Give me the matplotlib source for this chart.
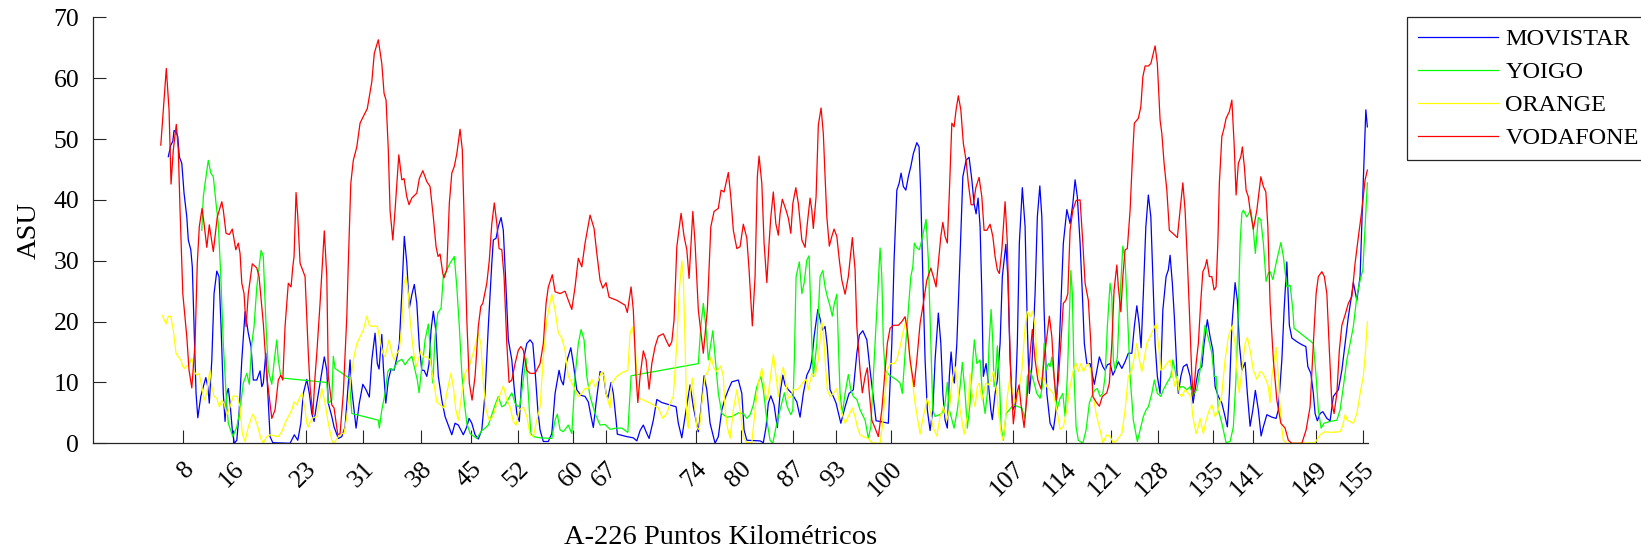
import numpy as np
import matplotlib
matplotlib.use("Agg")
import matplotlib.pyplot as plt

# eje x: indice de muestra a lo largo de la A-226; eje y: ASU
pk_pos = [36, 56, 85, 108, 131, 151, 170, 192, 205, 241, 259, 280, 297, 319,
          368, 389, 407, 426, 448, 464, 489, 508]
pk_labels = ['8', '16', '23', '31', '38', '45', '52', '60', '67', '74', '80',
             '87', '93', '100', '107', '114', '121', '128', '135', '141',
             '149', '155']

movistar = [
    (30.1, 47.1), (31.1, 49.0), (31.9, 49.6), (32.4, 51.4), (33.2, 51.2), (33.9, 50.4),
    (34.5, 47.1), (35.5, 46.0), (36.4, 41.1), (37.5, 37.2), (38.1, 33.4), (39.1, 31.8),
    (39.7, 29.0), (40.4, 19.2), (41.2, 8.2), (41.9, 4.2), (43.1, 7.7), (44.1, 9.3),
    (45.1, 10.8), (45.9, 9.3), (46.5, 6.6), (47.5, 13.7), (48.4, 24.6), (49.5, 28.3),
    (50.4, 27.4), (51.2, 19.2), (52.1, 8.2), (52.8, 3.6), (53.5, 8.2), (54.1, 9.0),
    (54.8, 6.6), (55.7, 2.2), (56.5, 0.0), (57.5, 0.5), (58.4, 4.9), (59.5, 13.7),
    (60.8, 21.6), (62.1, 18.1), (63.2, 15.9), (64.1, 10.4), (65.5, 10.4), (66.8, 11.9),
    (67.5, 9.3), (68.1, 9.9), (69.1, 14.8), (69.9, 8.2), (70.8, 1.1), (71.9, 0.1),
    (78.8, 0.0), (80.5, 1.4), (81.9, 0.5), (83.1, 3.3), (84.1, 8.2), (85.5, 10.5),
    (86.5, 8.2), (87.5, 4.9), (88.4, 3.6), (89.5, 6.6), (90.8, 9.9), (92.5, 14.2),
    (93.5, 12.0), (94.1, 6.6), (95.5, 4.4), (96.4, 2.7), (98.1, 0.8), (99.5, 1.1),
    (100.8, 2.7), (101.7, 7.7), (102.8, 13.7), (103.5, 8.8), (105.2, 2.5), (106.5, 6.6),
    (107.9, 9.7), (109.2, 8.8), (110.5, 7.6), (111.5, 13.7), (112.8, 18.1), (113.7, 13.1),
    (114.4, 12.2), (115.5, 17.9), (116.1, 12.6), (117.1, 6.6), (118.1, 10.4), (119.2, 12.2),
    (120.4, 12.0), (121.5, 14.0), (122.5, 16.4), (123.5, 24.6), (124.5, 34.0), (125.5, 29.6),
    (126.5, 22.2), (127.5, 24.4), (128.5, 26.1), (129.5, 23.0), (130.5, 15.9), (131.5, 12.0),
    (132.4, 12.0), (133.5, 11.0), (134.4, 13.1), (135.2, 18.6), (136.1, 21.7), (137.1, 18.6),
    (138.1, 11.0), (139.5, 7.1), (140.8, 4.4), (143.5, 1.4), (144.8, 3.3), (146.1, 3.0),
    (148.1, 1.4), (149.5, 2.7), (150.4, 4.1), (151.5, 3.3), (152.8, 1.4), (154.1, 0.7),
    (155.5, 2.2), (156.8, 8.2), (158.1, 19.2), (159.5, 29.6), (160.1, 33.4), (161.2, 33.7),
    (162.1, 35.6), (163.2, 37.1), (164.1, 35.0), (165.1, 26.3), (166.1, 17.0), (167.5, 13.7),
    (168.4, 9.3), (169.5, 4.9), (170.5, 3.6), (171.5, 11.0), (172.4, 14.2), (173.5, 16.4),
    (174.8, 17.0), (175.9, 16.4), (176.8, 12.0), (177.9, 5.5), (178.8, 2.2), (180.1, 0.3),
    (182.1, 0.3), (183.5, 1.6), (184.8, 8.2), (186.4, 12.0), (187.2, 10.4), (188.1, 9.6),
    (189.2, 13.1), (191.1, 15.7), (192.1, 13.1), (193.5, 8.8), (195.1, 7.9), (196.8, 7.7),
    (198.1, 6.8), (199.2, 4.4), (200.1, 2.6), (201.2, 6.6), (202.8, 11.8), (204.1, 11.5),
    (205.2, 8.2), (205.9, 7.4), (207.2, 10.0), (208.1, 8.2), (209.2, 3.8), (209.7, 1.5),
    (213.5, 1.1), (216.1, 0.9), (217.5, 0.4), (218.8, 2.1), (220.1, 3.0), (221.5, 1.6),
    (222.4, 0.8), (224.1, 3.8), (225.5, 7.2), (227.5, 6.7), (230.8, 6.3), (233.2, 6.0),
    (234.1, 3.3), (235.5, 0.9), (236.8, 4.4), (238.8, 9.6), (240.1, 6.0), (242.1, 1.9),
    (243.1, 5.5), (244.4, 11.1), (245.5, 8.8), (246.8, 3.3), (248.8, 0.0), (250.1, 1.1),
    (251.5, 5.5), (252.8, 7.4), (254.1, 8.8), (255.5, 10.1), (258.1, 10.4), (259.5, 8.2),
    (260.4, 2.2), (261.5, 0.5), (266.8, 0.4), (268.1, 0.1), (269.2, 2.7), (270.1, 6.6),
    (271.1, 7.8), (272.4, 6.3), (273.7, 2.6), (274.8, 8.2), (275.9, 11.2), (276.8, 9.6),
    (278.1, 8.8), (279.5, 8.2), (281.5, 6.8), (282.8, 4.3), (284.1, 8.2), (285.5, 11.2),
    (286.8, 12.3), (287.5, 13.7), (288.4, 17.5), (289.9, 22.0), (290.8, 20.5), (291.9, 18.6),
    (292.8, 19.2), (293.7, 15.9), (294.8, 8.8), (296.1, 7.7), (297.2, 6.6), (299.1, 3.3),
    (300.8, 6.0), (302.4, 8.2), (304.1, 8.8), (305.5, 14.8), (306.5, 17.8), (307.9, 18.5),
    (309.5, 17.0), (310.8, 12.0), (311.9, 8.2), (313.2, 3.7), (314.8, 3.6), (318.1, 3.3),
    (319.5, 16.4), (320.4, 30.1), (321.5, 41.6), (322.4, 42.7), (323.2, 44.4), (324.1, 42.2),
    (325.1, 41.6), (326.1, 43.8), (327.1, 45.5), (328.1, 47.6), (329.5, 49.4), (330.4, 48.7),
    (331.1, 40.5), (331.9, 27.4), (332.8, 13.7), (333.7, 5.5), (334.8, 2.1), (335.9, 5.5),
    (336.8, 13.7), (338.1, 21.4), (339.1, 16.4), (339.9, 8.2), (340.8, 3.8), (341.7, 2.5),
    (342.5, 11.0), (343.2, 15.0), (343.9, 11.5), (344.5, 9.9), (345.5, 16.4), (346.5, 27.4),
    (347.9, 43.8), (349.2, 46.5), (350.4, 47.0), (351.5, 43.3), (352.4, 39.4), (353.2, 37.7),
    (354.0, 40.3), (354.8, 35.6), (355.5, 24.6), (356.1, 11.0), (357.2, 13.1), (358.1, 9.9),
    (359.1, 5.5), (359.7, 3.9), (360.8, 8.2), (361.7, 10.4), (362.8, 16.4), (363.7, 27.4),
    (365.1, 32.7), (365.9, 27.4), (366.8, 13.7), (367.9, 5.5), (368.8, 6.3), (369.7, 16.4),
    (370.5, 32.9), (371.7, 42.0), (372.8, 35.6), (373.7, 19.2), (374.5, 8.2), (375.5, 12.6),
    (376.8, 24.6), (377.7, 37.2), (378.7, 42.3), (379.5, 37.2), (380.4, 21.9), (381.5, 8.2),
    (382.8, 3.3), (384.1, 2.2), (385.2, 5.5), (386.5, 16.4), (388.1, 32.9), (389.5, 38.4),
    (390.8, 36.1), (391.9, 39.4), (392.8, 43.3), (393.7, 40.5), (394.8, 32.9), (395.7, 24.6),
    (396.5, 16.4), (397.5, 13.1), (398.8, 13.1), (400.5, 9.7), (401.5, 12.0), (402.5, 14.2),
    (403.9, 12.6), (404.8, 12.0), (405.7, 12.9), (406.8, 13.1), (407.9, 11.2), (408.8, 12.0),
    (410.1, 13.4), (411.5, 12.3), (412.8, 13.4), (414.1, 14.8), (415.5, 14.8), (416.5, 19.2),
    (417.5, 22.6), (418.4, 19.7), (419.2, 15.7), (420.1, 24.6), (421.1, 35.6), (422.1, 40.8),
    (423.1, 37.2), (423.9, 27.4), (424.8, 16.4), (425.7, 11.0), (426.8, 8.2), (427.9, 21.9),
    (429.2, 27.4), (430.1, 28.5), (430.8, 30.9), (431.7, 26.3), (432.5, 20.8), (433.5, 12.0),
    (434.1, 8.2), (435.1, 11.0), (436.1, 12.6), (437.5, 13.0), (438.8, 11.0), (440.0, 6.6),
    (441.2, 9.9), (442.1, 12.0), (443.5, 12.6), (444.4, 16.4), (445.7, 20.3), (446.8, 17.5),
    (447.9, 15.3), (448.8, 9.3), (450.1, 7.7), (451.5, 6.6), (452.5, 4.9), (453.7, 2.7),
    (454.5, 8.2), (455.5, 19.2), (456.8, 26.4), (457.7, 23.5), (458.5, 16.4), (459.5, 12.0),
    (460.8, 13.3), (461.7, 8.2), (462.8, 2.8), (463.9, 5.5), (464.9, 8.7), (466.1, 5.5),
    (467.2, 1.2), (468.1, 2.7), (469.5, 4.7), (471.5, 4.3), (473.2, 4.1), (474.1, 5.5),
    (475.5, 13.7), (476.4, 21.9), (477.5, 29.8), (478.5, 19.4), (479.5, 17.3), (481.5, 16.7),
    (483.5, 16.2), (485.1, 15.9), (485.9, 12.6), (487.1, 11.5), (488.1, 8.2), (488.8, 4.9),
    (489.7, 3.7), (490.8, 4.9), (491.9, 5.2), (493.5, 4.1), (494.8, 3.7), (496.1, 7.7),
    (498.1, 8.8), (499.5, 12.0), (500.8, 16.4), (502.1, 20.8), (503.5, 24.6), (504.1, 26.4),
    (505.5, 23.5), (506.8, 27.4), (507.9, 41.1), (509.1, 54.8), (509.7, 52.0),
]

yoigo = [
    (43.5, 35.0), (44.1, 40.5), (44.8, 42.7), (46.1, 46.5), (47.1, 44.4), (48.1, 43.8),
    (49.2, 39.4), (50.1, 36.1), (51.1, 27.4), (52.1, 16.4), (53.2, 8.2), (54.1, 3.3),
    (55.9, 1.1), (57.5, 2.7), (58.8, 5.5), (60.1, 9.9), (61.5, 11.5), (62.5, 9.7),
    (63.5, 16.4), (64.4, 19.2), (65.5, 25.7), (67.2, 31.7), (68.1, 30.7), (69.2, 19.2),
    (70.1, 12.0), (71.5, 9.7), (72.5, 13.7), (73.5, 17.0), (74.1, 13.7), (75.1, 11.0),
    (76.1, 10.7), (93.5, 10.0), (94.1, 6.6), (95.5, 7.1), (96.1, 14.3), (96.8, 12.3),
    (102.5, 10.7), (103.5, 4.9), (114.1, 3.8), (114.5, 2.5), (115.5, 5.5), (116.8, 8.2),
    (117.9, 11.8), (118.8, 12.3), (120.1, 12.0), (121.7, 13.4), (123.5, 13.8), (124.8, 12.9),
    (126.1, 13.7), (127.5, 14.3), (128.8, 12.0), (129.7, 10.4), (130.4, 8.3), (131.5, 12.6),
    (132.1, 14.2), (132.8, 17.0), (134.1, 19.6), (135.1, 14.2), (135.9, 9.9), (136.8, 17.5),
    (137.9, 21.4), (139.2, 22.2), (140.1, 27.4), (141.5, 28.5), (142.8, 29.6), (144.5, 30.7),
    (145.5, 25.7), (146.5, 19.2), (147.5, 11.5), (148.4, 7.1), (149.5, 3.3), (150.8, 1.6),
    (153.5, 0.8), (155.5, 2.1), (156.8, 2.5), (158.1, 3.0), (159.5, 4.7), (160.8, 6.3),
    (162.1, 7.7), (163.5, 6.0), (164.8, 6.3), (167.5, 8.3), (168.8, 6.6), (169.9, 6.0),
    (170.8, 6.3), (172.1, 10.4), (173.2, 14.0), (174.1, 8.2), (175.1, 1.6), (176.1, 1.1),
    (178.8, 0.9), (183.5, 0.8), (184.8, 3.8), (185.7, 4.8), (186.8, 2.2), (188.1, 1.9),
    (190.1, 3.0), (191.5, 1.6), (192.8, 11.0), (194.1, 16.4), (195.2, 18.7), (196.4, 17.0),
    (197.5, 11.0), (198.8, 7.7), (200.8, 4.9), (202.8, 3.0), (204.8, 3.1), (206.8, 2.3),
    (209.2, 2.5), (211.5, 2.5), (213.9, 1.8), (214.4, 5.5), (215.2, 11.1), (242.1, 13.1),
    (243.1, 19.2), (244.1, 23.0), (245.1, 19.2), (246.1, 13.7), (247.9, 18.5), (248.8, 14.2),
    (250.1, 8.2), (251.5, 4.9), (253.5, 4.3), (255.5, 4.4), (258.1, 5.0), (260.1, 4.9),
    (261.5, 4.1), (262.8, 4.7), (264.1, 6.3), (265.5, 9.3), (267.1, 11.0), (268.1, 8.8),
    (269.5, 3.8), (270.8, 0.5), (271.9, 0.0), (273.2, 2.7), (274.8, 5.5), (276.5, 8.3),
    (277.7, 6.0), (279.1, 4.7), (279.9, 5.5), (280.5, 13.7), (281.2, 27.4), (282.5, 29.8),
    (283.5, 24.6), (284.4, 26.3), (285.5, 30.1), (286.4, 30.8), (287.5, 16.4), (288.1, 11.0),
    (289.5, 16.4), (290.8, 27.4), (291.9, 28.4), (292.8, 25.7), (293.7, 24.1), (294.8, 22.5),
    (295.7, 20.9), (296.5, 23.0), (297.5, 24.5), (298.1, 16.4), (298.8, 8.2), (299.7, 4.8),
    (300.8, 8.2), (302.1, 11.3), (303.1, 8.8), (304.1, 7.7), (305.5, 7.2), (306.8, 5.5),
    (308.8, 3.8), (310.1, 0.8), (311.1, 2.7), (312.1, 11.0), (313.5, 21.9), (314.8, 32.1),
    (315.5, 27.4), (316.1, 16.4), (316.8, 12.0), (318.5, 11.2), (321.5, 10.4), (322.8, 9.9),
    (323.7, 8.2), (324.8, 14.8), (326.1, 21.9), (327.1, 27.4), (327.9, 29.0), (328.5, 32.9),
    (329.5, 32.1), (330.5, 31.8), (331.5, 33.4), (333.2, 36.8), (334.1, 30.1), (335.1, 16.4),
    (335.9, 5.5), (336.8, 4.4), (339.5, 4.9), (340.8, 6.6), (341.7, 10.0), (342.5, 5.5),
    (344.4, 2.5), (345.7, 5.5), (346.8, 9.3), (347.7, 13.3), (348.8, 8.2), (349.7, 2.5),
    (350.8, 6.6), (351.9, 13.7), (352.5, 17.0), (353.5, 13.1), (354.8, 13.7), (355.7, 8.2),
    (356.8, 4.9), (357.7, 8.2), (358.4, 16.4), (359.2, 22.0), (359.9, 16.4), (360.4, 9.3),
    (361.1, 12.0), (361.7, 16.0), (362.5, 11.0), (363.2, 2.7), (364.1, 0.5), (365.2, 4.9),
    (366.5, 5.5), (368.1, 6.3), (370.1, 6.0), (371.5, 5.8), (372.8, 4.1), (373.7, 11.0),
    (374.8, 12.0), (376.1, 10.4), (377.5, 8.2), (378.8, 7.4), (379.7, 9.3), (380.4, 16.4),
    (381.2, 12.0), (382.1, 13.1), (382.8, 12.6), (383.5, 14.2), (384.4, 11.0), (385.5, 5.5),
    (386.8, 7.4), (387.9, 8.2), (388.8, 4.4), (389.7, 11.0), (391.1, 28.4), (391.7, 24.6),
    (392.4, 11.0), (393.2, 2.7), (394.1, 0.5), (395.9, 0.0), (397.2, 2.2), (398.5, 6.6),
    (399.9, 8.2), (400.8, 8.8), (401.7, 9.0), (402.8, 7.7), (403.9, 8.2), (404.8, 11.0),
    (405.7, 19.2), (406.8, 26.3), (407.5, 24.1), (408.1, 13.7), (408.8, 12.0), (409.7, 14.2),
    (410.5, 21.9), (411.9, 32.4), (412.8, 30.1), (413.7, 21.9), (414.8, 11.0), (416.1, 3.8),
    (417.7, 0.3), (418.8, 2.2), (420.1, 4.4), (421.2, 5.5), (422.1, 6.0), (423.5, 8.2),
    (424.5, 10.4), (425.7, 8.2), (427.1, 7.7), (428.1, 8.8), (429.5, 9.9), (431.1, 11.0),
    (431.9, 13.7), (432.8, 12.0), (434.1, 8.8), (435.1, 9.3), (436.1, 9.3), (437.5, 8.8),
    (438.8, 9.3), (439.9, 7.9), (441.5, 8.8), (442.8, 12.0), (444.8, 19.4), (446.1, 17.3),
    (447.5, 14.8), (448.4, 11.0), (449.2, 11.0), (450.1, 5.5), (451.5, 3.3), (453.2, 0.1),
    (454.8, 0.3), (456.1, 2.7), (457.2, 11.0), (458.1, 21.9), (458.8, 32.9), (459.5, 37.8),
    (460.1, 38.3), (461.5, 37.2), (463.1, 38.4), (464.1, 35.0), (464.9, 31.2), (466.1, 37.1),
    (467.1, 36.7), (468.1, 32.9), (469.2, 26.6), (470.1, 28.0), (470.8, 28.2), (471.9, 26.9),
    (473.2, 29.6), (475.1, 33.0), (476.1, 30.7), (477.5, 25.7), (478.8, 26.0), (479.9, 21.9),
    (480.4, 18.9), (488.1, 16.4), (489.2, 11.0), (490.1, 5.5), (491.2, 2.5), (492.4, 3.3),
    (494.8, 3.6), (497.5, 3.8), (498.8, 5.5), (500.1, 9.3), (501.5, 13.7), (502.8, 16.4),
    (504.1, 19.2), (505.5, 24.1), (506.8, 26.8), (507.9, 28.5), (508.8, 35.6), (509.7, 42.8),
]

orange = [
    (27.7, 21.0), (28.5, 20.3), (29.2, 19.6), (30.1, 20.9), (31.1, 20.8), (32.1, 18.6),
    (33.2, 14.8), (34.1, 14.2), (35.1, 13.7), (35.9, 12.6), (36.5, 12.3), (37.5, 12.7),
    (38.4, 13.1), (39.5, 14.0), (40.4, 11.8), (41.5, 11.2), (42.4, 11.5), (43.5, 9.3),
    (44.5, 7.1), (45.5, 8.2), (46.1, 10.4), (46.8, 12.0), (47.5, 9.3), (48.4, 7.7),
    (49.5, 7.4), (50.5, 6.0), (51.5, 7.1), (52.4, 6.6), (53.5, 4.7), (54.8, 6.0),
    (56.1, 7.8), (57.7, 7.7), (58.8, 6.0), (59.7, 1.6), (60.8, 0.3), (62.1, 2.7),
    (63.9, 4.8), (65.5, 3.3), (67.1, 0.8), (68.1, 0.1), (69.5, 1.1), (70.8, 1.4),
    (72.8, 1.2), (74.1, 1.1), (75.5, 1.9), (76.8, 3.3), (78.1, 4.4), (79.5, 5.5),
    (80.4, 6.8), (81.5, 6.3), (82.8, 7.7), (83.7, 8.2), (84.8, 5.5), (85.5, 3.3),
    (86.1, 2.7), (87.5, 4.1), (89.5, 4.4), (90.8, 7.5), (91.5, 9.0), (92.8, 6.6),
    (94.1, 3.3), (95.5, 0.5), (96.4, 0.0), (98.1, 1.1), (99.5, 1.6), (100.4, 1.6),
    (101.5, 4.4), (102.8, 9.3), (104.1, 13.7), (105.5, 16.4), (106.8, 17.5), (108.1, 18.6),
    (109.5, 20.9), (110.5, 19.4), (111.5, 19.2), (112.8, 19.3), (113.7, 19.2), (114.8, 17.0),
    (115.9, 14.8), (116.8, 14.2), (118.4, 17.0), (119.5, 14.8), (120.4, 13.7), (121.5, 14.8),
    (122.5, 15.3), (123.5, 19.2), (124.4, 26.3), (125.2, 27.4), (126.1, 24.6), (126.8, 20.3),
    (128.1, 15.3), (129.2, 12.6), (130.1, 13.7), (131.1, 15.2), (132.1, 14.2), (133.5, 14.2),
    (134.8, 13.7), (136.1, 10.4), (137.5, 6.8), (140.4, 5.8), (141.5, 8.2), (143.1, 11.5),
    (144.1, 9.3), (145.1, 5.5), (146.1, 3.8), (147.5, 8.2), (148.8, 11.5), (150.8, 13.1),
    (152.4, 15.3), (154.1, 18.2), (155.1, 16.4), (156.1, 9.9), (157.2, 5.5), (158.5, 3.8),
    (159.9, 4.4), (161.5, 6.6), (164.1, 9.4), (165.5, 7.1), (166.8, 6.0), (168.1, 3.6),
    (169.2, 3.0), (170.5, 5.5), (172.1, 6.0), (173.5, 4.4), (174.8, 1.4), (176.1, 1.1),
    (177.5, 3.8), (178.8, 6.0), (180.1, 14.2), (181.5, 20.3), (183.5, 24.5), (184.8, 21.9),
    (186.1, 18.1), (187.5, 17.3), (188.8, 15.3), (190.1, 11.0), (191.5, 9.9), (192.8, 8.8),
    (194.1, 7.7), (195.5, 8.2), (196.8, 9.0), (198.1, 9.0), (199.5, 10.5), (200.8, 9.3),
    (202.1, 10.4), (203.5, 11.8), (204.4, 11.0), (205.2, 8.2), (206.8, 5.8), (207.5, 9.9),
    (209.5, 11.0), (211.5, 11.6), (213.9, 12.0), (214.8, 18.1), (215.7, 19.1), (216.8, 16.4),
    (217.7, 9.9), (218.5, 7.4), (220.1, 7.1), (222.8, 6.6), (226.1, 5.8), (227.9, 4.1),
    (229.5, 4.9), (230.8, 6.6), (232.1, 7.7), (233.5, 16.4), (234.4, 24.6), (235.5, 30.0),
    (236.1, 27.4), (236.8, 16.4), (237.5, 3.8), (238.1, 2.5), (238.8, 8.2), (239.7, 10.7),
    (240.5, 6.6), (241.5, 2.7), (242.5, 2.2), (243.5, 6.6), (244.8, 11.0), (246.1, 12.0),
    (247.2, 14.2), (248.4, 12.3), (249.5, 11.8), (251.1, 12.7), (252.1, 11.0), (252.8, 5.5),
    (253.7, 2.7), (254.8, 0.8), (256.1, 5.5), (257.5, 8.8), (258.8, 5.5), (260.1, 1.1),
    (261.5, 0.1), (263.5, 0.1), (264.8, 5.5), (266.1, 9.9), (267.5, 12.3), (268.8, 8.2),
    (269.7, 7.1), (270.8, 10.4), (272.1, 14.6), (273.2, 11.0), (274.1, 7.7), (275.1, 11.0),
    (276.1, 12.5), (277.1, 9.9), (278.1, 7.4), (279.1, 7.7), (280.1, 8.8), (281.5, 8.8),
    (282.8, 9.3), (284.1, 10.1), (285.2, 10.5), (286.1, 8.8), (287.5, 11.5), (288.8, 11.0),
    (290.1, 13.7), (291.5, 20.0), (292.1, 18.6), (292.8, 13.7), (293.7, 8.8), (294.8, 7.7),
    (296.1, 8.2), (297.5, 9.0), (298.8, 6.0), (300.8, 3.3), (302.1, 4.4), (303.7, 5.8),
    (304.8, 4.4), (305.7, 2.7), (306.8, 1.4), (308.1, 1.1), (310.1, 0.8), (311.5, 0.1),
    (314.8, 0.0), (315.7, 2.7), (316.8, 8.2), (317.7, 12.0), (318.8, 13.1), (320.4, 13.1),
    (321.5, 13.7), (322.8, 15.9), (323.9, 18.1), (325.2, 20.3), (326.1, 16.4), (327.5, 11.0),
    (328.8, 6.6), (330.8, 1.5), (332.1, 4.4), (333.7, 7.4), (334.8, 5.5), (335.9, 2.7),
    (337.5, 1.2), (338.8, 4.4), (340.1, 6.0), (341.5, 3.8), (342.5, 5.5), (343.5, 9.9),
    (344.8, 12.6), (345.7, 9.9), (346.8, 5.5), (348.4, 1.5), (349.7, 4.4), (350.8, 11.5),
    (351.5, 8.2), (352.8, 6.0), (353.7, 9.3), (354.5, 9.9), (355.5, 7.1), (356.1, 8.2),
    (357.1, 9.9), (358.1, 9.6), (359.1, 10.4), (360.1, 11.8), (361.2, 9.3), (362.1, 5.5),
    (363.2, 1.6), (363.9, 0.5), (364.8, 3.3), (365.7, 7.7), (366.8, 11.0), (367.9, 8.2),
    (368.8, 6.6), (370.1, 8.2), (371.5, 12.0), (372.8, 19.2), (373.7, 21.7), (374.8, 20.8),
    (375.9, 21.7), (376.8, 19.2), (377.5, 13.7), (378.4, 11.0), (379.5, 10.4), (380.1, 11.0),
    (381.5, 9.3), (382.8, 8.8), (384.1, 8.2), (385.5, 5.5), (386.8, 2.3), (388.1, 2.7),
    (389.5, 5.5), (390.8, 9.3), (392.1, 12.0), (393.2, 13.1), (394.1, 11.8), (395.1, 13.1),
    (396.1, 11.8), (397.1, 12.6), (398.1, 13.1), (399.1, 12.0), (399.9, 8.2), (401.2, 4.9),
    (402.5, 2.7), (403.9, 0.1), (405.5, 1.4), (406.8, 1.1), (408.1, 0.1), (409.5, 0.5),
    (411.5, 1.6), (412.8, 5.5), (414.1, 11.0), (415.5, 12.0), (416.8, 14.8), (417.5, 16.4),
    (418.5, 13.7), (419.5, 11.8), (420.4, 13.7), (421.5, 16.4), (422.8, 17.5), (425.2, 19.7),
    (426.1, 16.4), (427.1, 12.0), (428.1, 12.3), (429.5, 13.1), (430.8, 13.7), (431.9, 11.0),
    (432.8, 9.3), (433.7, 11.0), (434.5, 8.2), (435.5, 7.7), (436.8, 8.8), (438.1, 8.2),
    (439.1, 7.7), (439.9, 4.4), (441.2, 1.6), (442.1, 2.7), (442.8, 4.1), (444.1, 1.6),
    (445.2, 3.8), (446.5, 5.5), (447.5, 6.3), (448.8, 4.4), (450.1, 5.5), (451.5, 8.2),
    (452.8, 13.7), (454.1, 17.5), (455.7, 19.3), (456.8, 16.4), (457.5, 12.0), (458.4, 8.3),
    (459.5, 12.0), (460.8, 16.4), (461.7, 17.4), (462.8, 15.3), (464.1, 12.0), (465.5, 10.5),
    (466.8, 11.8), (467.9, 11.5), (469.2, 10.4), (470.1, 9.3), (470.8, 6.7), (471.5, 11.0),
    (473.2, 15.8), (474.1, 11.0), (475.1, 3.8), (476.1, 0.5), (477.5, 0.0), (488.8, 0.1),
    (490.8, 1.4), (492.8, 1.9), (494.8, 1.8), (498.8, 1.9), (499.9, 3.0), (500.8, 4.7),
    (501.7, 3.8), (502.8, 3.6), (504.1, 3.3), (505.5, 4.9), (506.8, 8.2), (508.1, 11.0),
    (508.9, 14.8), (509.7, 20.0),
]

vodafone = [
    (27.1, 49.0), (29.3, 61.6), (30.4, 54.8), (31.2, 42.6), (32.1, 48.2), (33.3, 52.4),
    (34.1, 48.2), (34.8, 38.3), (35.9, 24.6), (37.5, 17.5), (38.4, 12.0), (39.5, 9.1),
    (40.8, 16.4), (41.7, 29.6), (42.5, 35.6), (43.6, 38.6), (44.4, 36.1), (45.5, 32.2),
    (46.5, 35.9), (48.1, 31.5), (49.7, 37.2), (51.5, 39.7), (52.1, 38.3), (53.2, 34.5),
    (54.5, 34.3), (55.7, 35.2), (57.1, 31.8), (58.1, 32.9), (58.8, 31.2), (59.5, 26.3),
    (60.4, 24.6), (61.2, 19.2), (62.1, 24.6), (63.7, 29.5), (65.5, 28.8), (66.4, 27.4),
    (68.1, 19.7), (69.5, 11.0), (71.5, 4.1), (72.8, 5.5), (74.1, 10.4), (75.1, 11.2),
    (75.9, 10.4), (76.8, 19.2), (78.1, 26.3), (79.2, 25.7), (79.9, 29.0), (80.4, 30.7),
    (81.2, 41.2), (81.9, 37.2), (82.8, 29.6), (84.8, 27.4), (86.1, 14.8), (86.8, 9.3),
    (87.9, 4.7), (88.8, 11.0), (89.5, 14.8), (90.8, 23.0), (92.5, 34.9), (93.5, 27.4),
    (94.1, 11.0), (95.5, 6.3), (96.4, 5.8), (97.9, 1.4), (98.8, 1.6), (100.1, 8.2),
    (101.5, 20.8), (102.1, 29.6), (103.1, 42.7), (104.1, 46.5), (105.5, 48.7), (106.8, 52.6),
    (108.1, 53.7), (109.7, 55.0), (111.5, 59.4), (112.5, 64.1), (114.1, 66.3), (115.5, 62.4),
    (116.4, 57.5), (117.2, 56.4), (118.1, 48.2), (118.8, 38.3), (119.9, 33.4), (120.8, 38.3),
    (122.3, 47.4), (123.5, 43.3), (124.4, 43.5), (125.5, 40.5), (126.4, 39.2), (127.5, 40.3),
    (129.5, 41.1), (130.5, 43.5), (131.9, 44.8), (133.5, 43.0), (134.8, 42.2), (136.1, 37.2),
    (137.2, 32.3), (138.0, 30.7), (138.8, 31.1), (139.9, 27.9), (140.4, 27.2), (141.5, 28.5),
    (142.5, 39.4), (143.5, 44.4), (144.5, 45.5), (145.5, 47.6), (146.8, 51.6), (147.7, 48.2),
    (148.4, 37.2), (149.5, 20.3), (150.5, 9.9), (151.6, 7.1), (152.8, 11.0), (154.1, 19.2),
    (155.1, 22.5), (155.9, 23.0), (157.5, 26.3), (158.5, 30.1), (159.5, 36.1), (160.5, 39.5),
    (161.5, 36.1), (162.4, 32.0), (163.5, 31.8), (164.4, 27.4), (165.5, 16.4), (166.4, 10.0),
    (167.5, 10.4), (168.8, 13.1), (170.1, 15.3), (171.1, 15.9), (172.1, 15.3), (173.5, 12.0),
    (174.8, 11.5), (176.8, 11.5), (178.8, 13.1), (180.1, 16.4), (181.2, 23.0), (182.1, 25.7),
    (183.7, 27.7), (184.8, 24.9), (186.8, 24.6), (188.8, 25.0), (190.1, 23.5), (191.5, 22.0),
    (192.8, 25.7), (194.1, 30.4), (195.5, 29.0), (196.8, 32.9), (198.8, 37.5), (200.4, 35.3),
    (201.5, 31.2), (202.8, 26.8), (203.9, 25.5), (205.2, 26.4), (206.4, 24.0), (209.5, 23.5),
    (212.8, 22.7), (213.7, 21.5), (215.2, 25.7), (216.1, 21.9), (217.2, 11.0), (217.9, 6.7),
    (218.8, 11.0), (220.1, 15.2), (221.2, 13.7), (222.4, 8.9), (223.5, 13.1), (224.8, 15.9),
    (226.1, 17.6), (228.1, 18.0), (229.5, 16.7), (230.5, 15.9), (231.5, 16.7), (232.4, 20.3),
    (233.5, 32.3), (235.2, 37.8), (236.4, 34.0), (237.5, 31.8), (238.4, 27.1), (239.9, 38.1),
    (240.8, 32.9), (242.1, 21.9), (244.1, 14.8), (245.7, 21.9), (247.1, 35.6), (248.4, 38.1),
    (250.1, 38.6), (251.2, 41.6), (252.4, 41.3), (254.1, 44.5), (255.1, 40.5), (256.1, 35.0),
    (257.5, 32.0), (258.8, 32.3), (260.1, 36.0), (261.5, 33.7), (262.4, 28.5), (263.7, 19.3),
    (264.8, 27.4), (265.7, 43.8), (266.4, 47.2), (267.5, 42.7), (268.4, 32.9), (269.5, 26.4),
    (270.4, 32.9), (271.1, 37.2), (272.1, 41.3), (273.1, 36.1), (274.1, 34.2), (274.8, 37.7),
    (275.7, 40.1), (277.2, 38.3), (278.1, 37.0), (279.1, 34.5), (279.9, 39.4), (281.1, 42.0),
    (282.1, 39.4), (283.5, 33.4), (284.8, 32.2), (285.7, 36.1), (286.8, 40.3), (287.5, 38.3),
    (288.1, 35.3), (289.2, 40.5), (290.1, 52.3), (291.2, 55.1), (292.1, 50.9), (292.8, 43.8),
    (293.5, 37.2), (294.5, 32.4), (295.5, 34.0), (296.4, 35.2), (297.5, 34.0), (298.5, 30.1),
    (299.5, 26.8), (300.8, 24.5), (302.1, 27.4), (303.7, 33.8), (304.8, 28.5), (305.5, 19.2),
    (306.8, 12.0), (307.7, 8.3), (308.8, 11.0), (309.7, 12.4), (310.5, 8.2), (311.5, 3.8),
    (312.8, 2.5), (314.1, 1.1), (315.5, 5.5), (316.8, 12.0), (317.7, 16.4), (318.8, 18.9),
    (320.1, 19.4), (322.1, 19.4), (323.5, 20.0), (324.8, 20.8), (325.7, 18.6), (326.8, 13.7),
    (328.4, 9.3), (329.5, 13.7), (330.8, 19.7), (332.1, 23.0), (333.5, 26.8), (335.1, 28.8),
    (336.1, 27.4), (337.2, 25.7), (338.1, 29.6), (339.1, 34.0), (339.9, 36.3), (340.8, 34.0),
    (341.7, 32.9), (342.5, 41.1), (343.5, 52.6), (344.4, 52.0), (345.2, 54.8), (346.1, 57.1),
    (347.1, 54.8), (348.1, 49.3), (349.2, 46.5), (350.1, 42.7), (351.2, 39.2), (352.1, 39.2),
    (353.1, 42.0), (354.4, 43.7), (355.5, 40.5), (356.4, 35.0), (357.5, 35.0), (358.8, 36.0),
    (359.9, 34.0), (360.8, 30.7), (361.7, 28.5), (362.5, 27.9), (363.5, 31.8), (364.8, 39.7),
    (365.7, 32.9), (366.5, 19.2), (367.1, 11.0), (368.1, 3.2), (369.5, 8.2), (370.4, 9.6),
    (371.1, 6.6), (372.4, 2.6), (373.7, 8.2), (374.8, 14.8), (375.7, 18.7), (376.8, 13.7),
    (377.9, 10.4), (379.2, 8.9), (380.4, 13.7), (382.5, 20.9), (383.5, 17.5), (384.4, 11.0),
    (385.2, 7.1), (386.1, 10.4), (387.1, 16.4), (388.1, 23.0), (389.1, 23.5), (389.9, 24.6),
    (390.8, 35.0), (391.9, 38.3), (393.2, 39.9), (394.8, 40.0), (395.9, 32.9), (396.8, 26.3),
    (398.1, 23.5), (399.1, 16.4), (399.9, 7.7), (401.2, 6.8), (402.5, 6.1), (403.7, 7.7),
    (405.5, 8.3), (406.5, 9.9), (407.5, 16.4), (408.4, 25.2), (409.5, 29.3), (410.1, 25.7),
    (411.1, 21.6), (411.9, 27.4), (412.8, 31.8), (413.7, 32.0), (414.8, 38.3), (415.7, 46.5),
    (416.5, 52.6), (418.1, 53.4), (419.1, 55.3), (419.9, 60.2), (420.8, 62.0), (422.1, 62.0),
    (423.1, 62.4), (424.8, 65.3), (425.7, 62.4), (426.8, 53.1), (427.5, 50.9), (428.4, 46.0),
    (429.5, 41.6), (430.5, 35.0), (431.9, 34.5), (433.7, 33.8), (434.8, 38.3), (435.9, 42.8),
    (436.8, 38.3), (437.7, 30.1), (438.5, 21.9), (439.5, 11.0), (440.1, 7.7), (441.2, 13.1),
    (442.1, 16.4), (443.1, 23.5), (443.9, 28.2), (444.8, 29.0), (445.5, 30.2), (446.5, 27.4),
    (447.5, 27.4), (448.4, 25.2), (449.2, 25.7), (449.9, 32.9), (450.5, 42.7), (451.5, 50.4),
    (452.4, 51.8), (453.2, 53.4), (454.5, 54.5), (455.5, 56.4), (456.4, 49.3), (457.2, 40.8),
    (458.1, 46.0), (459.1, 47.1), (459.7, 48.7), (460.5, 45.5), (461.2, 41.6), (462.1, 40.5),
    (462.8, 38.3), (464.1, 35.2), (465.5, 38.3), (467.1, 43.8), (468.1, 42.2), (469.1, 41.3),
    (469.9, 35.6), (470.8, 23.0), (472.1, 13.7), (473.5, 7.1), (475.1, 3.3), (476.8, 2.5),
    (478.1, 0.5), (479.5, 0.0), (483.5, 0.0), (485.2, 2.2), (486.8, 6.0), (488.1, 16.4),
    (489.2, 24.6), (490.1, 27.4), (491.5, 28.2), (492.5, 27.4), (493.5, 24.6), (494.5, 15.3),
    (495.5, 6.6), (496.4, 4.9), (497.5, 8.2), (498.5, 15.3), (499.5, 19.4), (500.8, 21.1),
    (502.1, 23.0), (503.5, 24.1), (504.8, 29.6), (506.1, 33.9), (507.5, 38.3), (508.8, 43.3),
    (509.7, 44.9),
]

series = [
    ('MOVISTAR', movistar, '#0000ff'),
    ('YOIGO', yoigo, '#00ff00'),
    ('ORANGE', orange, '#ffff00'),
    ('VODAFONE', vodafone, '#ff0000'),
]


def draw():
    plt.rcParams['font.family'] = ['Liberation Serif', 'DejaVu Serif']
    axis_col = '#262626'

    fig = plt.figure(figsize=(16.41, 5.49), dpi=100)
    ax = fig.add_axes([0.0567, 0.1925, 0.7770, 0.7760])

    for name, pts, col in series:
        xy = np.array(pts)
        ax.plot(xy[:, 0], xy[:, 1], color=col, lw=0.9, label=name)

    ax.set_xlim(0, 510)
    ax.set_ylim(0, 70)
    ax.set_yticks(np.arange(0, 71, 10))
    ax.set_xticks(pk_pos)
    ax.set_xticklabels(pk_labels, rotation=45, ha='right', va='top',
                       rotation_mode='anchor')

    for side in ['top', 'right']:
        ax.spines[side].set_visible(False)
    for side in ['left', 'bottom']:
        ax.spines[side].set_color(axis_col)
        ax.spines[side].set_linewidth(0.9)

    ax.tick_params(axis='both', direction='in', length=9.2, width=0.8,
                   color=axis_col, labelsize=18.5, labelcolor='black')
    ax.tick_params(axis='y', pad=10)
    ax.tick_params(axis='x', pad=10.5)

    ax.set_xlabel('A-226 Puntos Kilométricos', fontsize=20.5)
    ax.set_ylabel('ASU', fontsize=20.5)
    ax.xaxis.set_label_coords(0.492, -0.192)
    ax.yaxis.set_label_coords(-0.040, 0.5)

    leg = ax.legend(loc='upper left', bbox_to_anchor=(1407 / 1641, 1 - 17.3 / 549),
                    bbox_transform=fig.transFigure, borderaxespad=0,
                    fontsize=17.5, handlelength=3.3, handletextpad=0.3,
                    labelspacing=0.45, borderpad=0.45, fancybox=False,
                    framealpha=1, edgecolor=axis_col)
    leg.get_frame().set_linewidth(0.9)

    fig.savefig('out.png', dpi=100)


if __name__ == "__main__":
    draw()
